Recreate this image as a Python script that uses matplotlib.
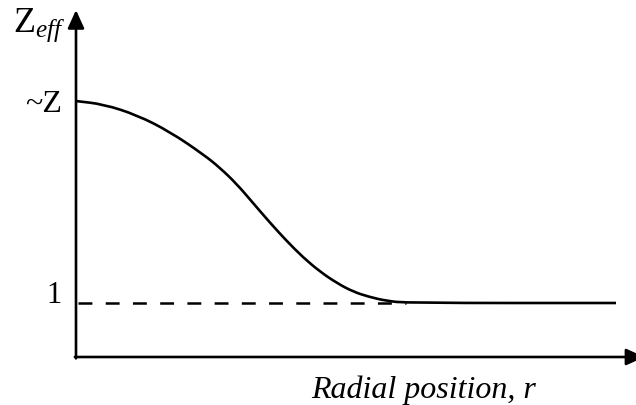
import matplotlib
matplotlib.use("Agg")
import matplotlib.pyplot as plt
from matplotlib.path import Path
from matplotlib.patches import PathPatch

plt.rcParams['font.family'] = ['Liberation Serif', 'DejaVu Serif']
plt.rcParams['mathtext.fontset'] = 'custom'
plt.rcParams['mathtext.rm'] = 'Liberation Serif'
plt.rcParams['mathtext.it'] = 'Liberation Serif:italic'
plt.rcParams['lines.scale_dashes'] = False

# data (arbitrary units)
r = [0, 0.51, 1.13, 1.74, 2.36, 2.67, 2.98, 3.28, 3.59, 3.90, 4.21, 4.52,
     4.83, 5.13, 5.44, 5.75, 6.12, 10.0]
zeff = [4.74, 4.68, 4.48, 4.17, 3.75, 3.50, 3.20, 2.85, 2.49, 2.15, 1.84, 1.58,
        1.37, 1.21, 1.11, 1.04, 1.0, 1.0]
z_value = 4.74
one_value = 1.0
dash_end = 6.12
tick_labels = ['~Z', '1']
xlabel = 'Radial position, r'

W, H = 636, 405
fig = plt.figure(figsize=(W / 100, H / 100), dpi=100)
ax = fig.add_axes([76 / W, 48 / H, (W - 76) / W, (357 - 10) / H])
ax.set_xlim(0, 560 / 54)
ax.set_ylim(0, 347 / 54)
for s in ax.spines.values():
    s.set_visible(False)
ax.set_xticks([])
ax.set_yticks([])

# dashed reference line
ax.plot([0.04, dash_end], [one_value, one_value], color='black', lw=1.8,
        linestyle=(0, (10, 9.6)), dash_capstyle='butt')

# smooth curve through the data points (quadratic segments between midpoints)
pts = list(zip(r, zeff))
verts = [pts[0]]
codes = [Path.MOVETO]
mids = [((pts[i][0] + pts[i + 1][0]) / 2, (pts[i][1] + pts[i + 1][1]) / 2)
        for i in range(len(pts) - 1)]
verts.append(mids[0]); codes.append(Path.LINETO)
for i in range(1, len(pts) - 1):
    verts += [pts[i], mids[i]]
    codes += [Path.CURVE3, Path.CURVE3]
verts.append(pts[-1]); codes.append(Path.LINETO)
ax.add_patch(PathPatch(Path(verts, codes), facecolor='none', edgecolor='black',
                       lw=1.9, joinstyle='round', capstyle='butt'))

# axes with arrows
arrow = dict(arrowstyle='-|>,head_length=1.1,head_width=0.5',
             lw=1.9, color='black', shrinkA=0, shrinkB=0)
ax.annotate('', xy=(0, 1), xytext=(0, -0.004), xycoords='axes fraction',
            arrowprops=arrow, annotation_clip=False)
ax.annotate('', xy=(1.015, 0), xytext=(-0.002, 0), xycoords='axes fraction',
            arrowprops=arrow, annotation_clip=False)

# tick-like labels
ax.text(-0.26, z_value - 0.06, tick_labels[0], ha='right', va='center', fontsize=23)
ax.text(-0.26, one_value, tick_labels[1], ha='right', va='baseline', fontsize=22)

# y label
fig.text(13 / W, 1 - 32 / H, r'$\mathrm{Z}_{\mathit{eff}}$', ha='left', va='baseline', fontsize=26)
# x label
fig.text(423.5 / W, 1 - 398 / H, xlabel, ha='center', va='baseline', fontsize=23, style='italic')

fig.savefig('out.png', dpi=100)
